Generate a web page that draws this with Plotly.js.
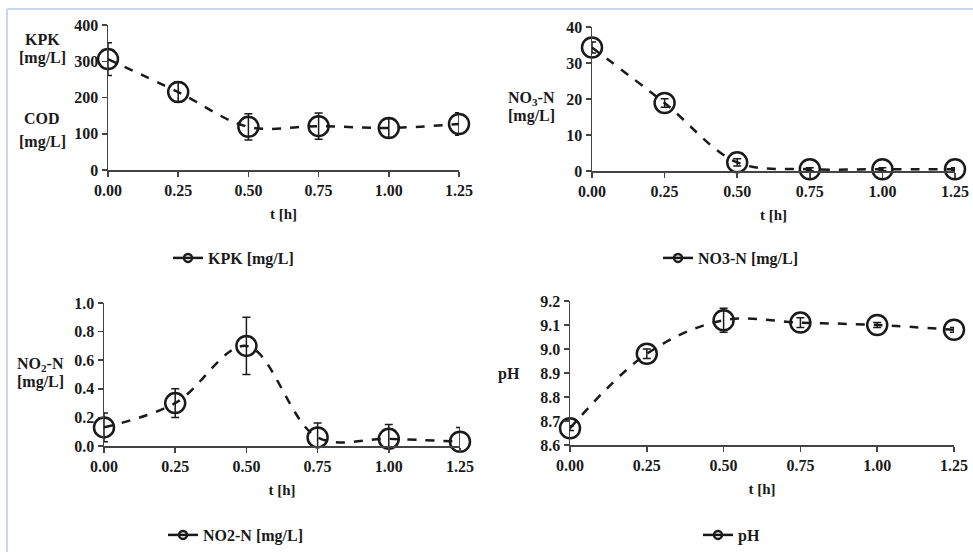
<!DOCTYPE html>
<html>
<head>
<meta charset="utf-8">
<script src="https://cdn.plot.ly/plotly-3.0.1.min.js"></script>
<style>html,body{margin:0;padding:0;background:#fff;}#chart{width:973px;height:552px;}</style>
</head>
<body>
<div id="chart"></div>
<script>
// ---- data ----
const t = [0, 0.25, 0.5, 0.75, 1.0, 1.25];
const tickLabels = ['0.00', '0.25', '0.50', '0.75', '1.00', '1.25'];
const kpk = [306, 215, 119, 121, 116, 127];
const kpkErr = [45, 28, 36, 36, 26, 31];
const no3 = [34.3, 18.9, 2.4, 0.5, 0.5, 0.5];
const no3Err = [1.5, 1.2, 1.0, 0.4, 0.4, 0.4];
const no2 = [0.13, 0.30, 0.70, 0.06, 0.05, 0.03];
const no2Err = [0.10, 0.10, 0.20, 0.10, 0.10, 0.10];
const ph = [8.67, 8.98, 9.12, 9.11, 9.10, 9.08];
const phErr = [0.01, 0.02, 0.05, 0.02, 0.01, 0.01];
const seriesNames = ['KPK [mg/L]', 'NO3-N [mg/L]', 'NO2-N [mg/L]', 'pH'];

const W = 973, H = 552;
const px = v => v / W;
const py = v => 1 - v / H;
const FONT = 'Liberation Serif, Times New Roman, serif';
const INK = '#1a1a1a';

function trace(y, err, name, xa, ya) {
  return {
    x: t, y: y, name: name, type: 'scatter', mode: 'lines+markers',
    xaxis: xa, yaxis: ya, cliponaxis: false, showlegend: false,
    line: {color: INK, width: 2.5, dash: 'dash', shape: 'spline', smoothing: 1},
    marker: {symbol: 'circle-open', size: 20, color: INK, line: {color: INK, width: 2.5}},
    error_y: {type: 'data', array: err, visible: true, color: INK, thickness: 1.5, width: 4}
  };
}
// legend-only glyph entries (small symbol like the original legend)
function legendEntry(name, xa, ya, lg) {
  return {
    x: [null], y: [null], name: name, type: 'scatter', mode: 'lines+markers',
    xaxis: xa, yaxis: ya, legend: lg, showlegend: true,
    line: {color: INK, width: 2.5},
    marker: {symbol: 'circle-open', size: 8, color: INK, line: {color: INK, width: 2.5}}
  };
}

const data = [
  trace(kpk, kpkErr, seriesNames[0], 'x', 'y'),
  trace(no3, no3Err, seriesNames[1], 'x2', 'y2'),
  trace(no2, no2Err, seriesNames[2], 'x3', 'y3'),
  trace(ph, phErr, seriesNames[3], 'x4', 'y4'),
  legendEntry(seriesNames[0], 'x', 'y', 'legend'),
  legendEntry(seriesNames[1], 'x2', 'y2', 'legend2'),
  legendEntry(seriesNames[2], 'x3', 'y3', 'legend3'),
  legendEntry(seriesNames[3], 'x4', 'y4', 'legend4')
];

const tickFont = {family: FONT, size: 16, color: INK, weight: 700};
function xax(d0, d1, anchor) {
  return {
    domain: [px(d0), px(d1)], anchor: anchor, range: [0, 1.25],
    tickvals: t, ticktext: tickLabels, ticks: 'outside', ticklen: 5, tickwidth: 1.5, tickcolor: '#444',
    showline: true, linecolor: '#444', linewidth: 1.5, showgrid: false, zeroline: false,
    tickfont: tickFont,
    title: {text: 't [h]', font: {family: FONT, size: 15, color: INK, weight: 700}, standoff: 11}
  };
}
function yax(d0, d1, anchor, range, dtick, fmt) {
  return {
    domain: [py(d1), py(d0)], anchor: anchor, range: range, dtick: dtick, tick0: range[0],
    tickformat: fmt, ticks: 'outside', ticklen: 5, tickwidth: 1.5, tickcolor: '#444',
    showline: true, linecolor: '#444', linewidth: 1.5, showgrid: false, zeroline: false,
    tickfont: tickFont
  };
}

function legendAt(xPix, yPix) {
  return {
    x: px(xPix), y: py(yPix), xanchor: 'left', yanchor: 'middle', orientation: 'h',
    bgcolor: 'rgba(0,0,0,0)', borderwidth: 0, itemwidth: 30,
    font: {family: FONT, size: 16, color: INK, weight: 700}
  };
}

function ann(text, xPix, yPix, size) {
  return {
    text: text, xref: 'paper', yref: 'paper', x: px(xPix), y: py(yPix),
    xanchor: 'center', yanchor: 'middle', showarrow: false,
    font: {family: FONT, size: size || 16, color: INK, weight: 700}
  };
}

const layout = {
  width: W, height: H, margin: {l: 0, r: 0, t: 0, b: 0},
  paper_bgcolor: '#fff', plot_bgcolor: 'rgba(0,0,0,0)',
  showlegend: true,
  xaxis: xax(108, 459, 'y'),
  yaxis: yax(25, 170, 'x', [0, 400], 100, 'd'),
  xaxis2: xax(592, 955, 'y2'),
  yaxis2: yax(27, 171, 'x2', [0, 40], 10, 'd'),
  xaxis3: xax(104, 460, 'y3'),
  yaxis3: yax(303, 446, 'x3', [0, 1.0], 0.2, '.1f'),
  xaxis4: xax(570, 954, 'y4'),
  yaxis4: yax(301, 445, 'x4', [8.6, 9.2], 0.1, '.1f'),
  legend: legendAt(168, 258),
  legend2: legendAt(658, 258),
  legend3: legendAt(163, 535),
  legend4: legendAt(698, 535),
  annotations: [
    ann('KPK', 42, 40), ann('[mg/L]', 42, 58),
    ann('COD', 42, 118), ann('[mg/L]', 42, 142),
    ann('NO<sub>3</sub>-N', 531, 98), ann('[mg/L]', 531, 116),
    ann('NO<sub>2</sub>-N', 40, 364), ann('[mg/L]', 40, 382),
    ann('pH', 509, 374)
  ],
  shapes: [
    {type: 'line', xref: 'paper', yref: 'paper', x0: px(7), x1: 1.01, y0: py(9), y1: py(9),
     line: {color: '#c6d9f0', width: 2}},
    {type: 'line', xref: 'paper', yref: 'paper', x0: px(7), x1: px(7), y0: py(9), y1: -0.01,
     line: {color: '#c6d9f0', width: 2}}
  ]
};

Plotly.newPlot('chart', data, layout, {staticPlot: true, displayModeBar: false});
</script>
</body>
</html>
